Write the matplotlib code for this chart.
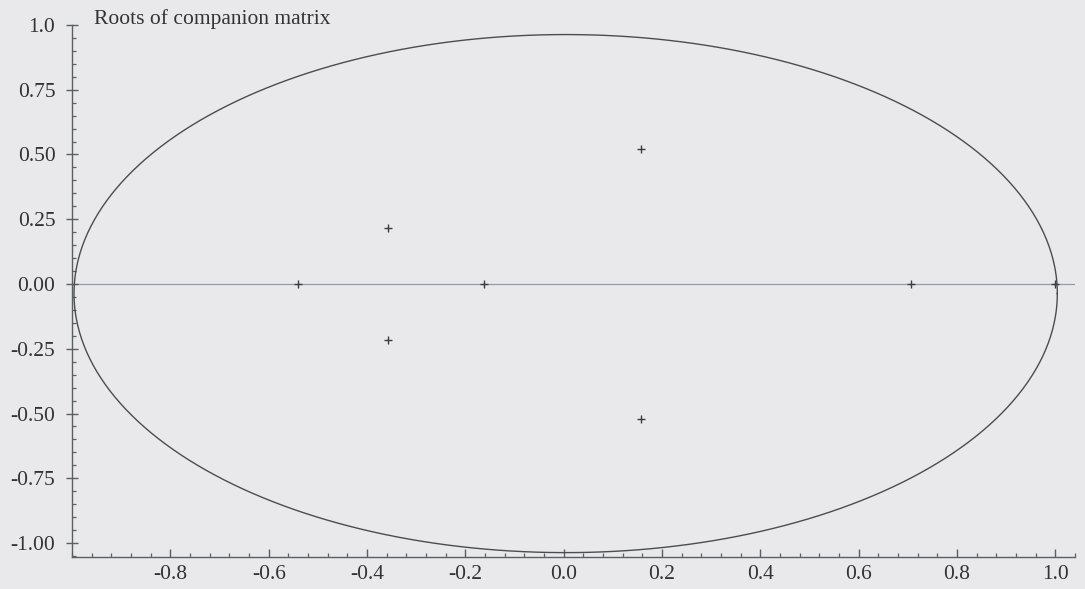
import numpy as np
import matplotlib
matplotlib.use("Agg")
import matplotlib.pyplot as plt
from matplotlib.ticker import FixedLocator, MultipleLocator, FixedFormatter

# Data: roots of the companion matrix (real, imaginary parts)
roots_real = [1.0, 0.707, 0.157, 0.157, -0.162, -0.358, -0.358, -0.540]
roots_imag = [0.0, 0.0, 0.523, -0.523, 0.0, 0.215, -0.215, 0.0]

xticks = [-0.8, -0.6, -0.4, -0.2, 0.0, 0.2, 0.4, 0.6, 0.8, 1.0]
xticklabels = ["-0.8", "-0.6", "-0.4", "-0.2", "0.0", "0.2", "0.4", "0.6", "0.8", "1.0"]
yticks = [-1.0, -0.75, -0.5, -0.25, 0.0, 0.25, 0.5, 0.75, 1.0]
yticklabels = ["-1.00", "-0.75", "-0.50", "-0.25", "0.00", "0.25", "0.50", "0.75", "1.0"]
title = "Roots of companion matrix"

bg = "#e9e9eb"
axc = "#5a5f63"

plt.rcParams['font.family'] = ['Liberation Serif', 'DejaVu Serif']

fig = plt.figure(figsize=(10.85, 5.89), dpi=100, facecolor=bg)
ax = fig.add_axes([0.0664, 0.0543, 0.9244, 0.9033], facecolor=bg)

# unit circle (drawn as in the reference, slightly offset vertically)
t = np.linspace(0, 2 * np.pi, 721)
ax.plot(0.004 + np.cos(t), -0.037 + np.sin(t), color="#4a4d50", lw=1.0, zorder=2)

# real axis line
ax.axhline(0.0, color="#8e9cab", lw=0.9, zorder=1)

# roots
ax.plot(roots_real, roots_imag, linestyle="none", marker="+", markersize=5.5,
        markeredgewidth=1.0, color="#3a3c3e", zorder=3)

ax.set_xlim(-1.0, 1.04)
ax.set_ylim(-1.054, 1.0)

for s in ["top", "right"]:
    ax.spines[s].set_visible(False)
for s in ["left", "bottom"]:
    ax.spines[s].set_color(axc)
    ax.spines[s].set_linewidth(1.0)

ax.xaxis.set_major_locator(FixedLocator(xticks))
ax.xaxis.set_major_formatter(FixedFormatter(xticklabels))
ax.xaxis.set_minor_locator(MultipleLocator(0.04))
ax.yaxis.set_major_locator(FixedLocator(yticks))
ax.yaxis.set_major_formatter(FixedFormatter(yticklabels))
ax.yaxis.set_minor_locator(MultipleLocator(0.05))

ax.tick_params(axis="x", which="major", direction="in", length=5.5, width=1.0,
               color=axc, labelsize=15.5, labelcolor="#333333", pad=6)
ax.tick_params(axis="x", which="minor", direction="in", length=3, width=0.9, color=axc)
ax.tick_params(axis="y", which="major", direction="inout", length=9, width=1.0,
               color=axc, labelsize=15.5, labelcolor="#333333", pad=7.5)
ax.tick_params(axis="y", which="minor", direction="in", length=3, width=0.9, color=axc)

fig.text(94 / 1085, 1 - 19 / 589, title, fontsize=15.5, color="#333333",
         ha="left", va="center")

fig.savefig("out.png", dpi=100, facecolor=bg)
